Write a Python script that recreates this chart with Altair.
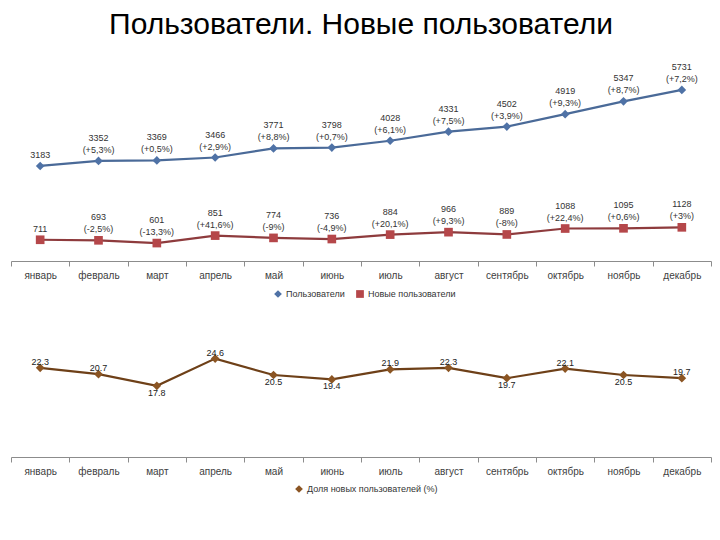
import altair as alt
import pandas as pd

months = ["январь", "февраль", "март", "апрель", "май", "июнь",
          "июль", "август", "сентябрь", "октябрь", "ноябрь", "декабрь"]
users = [3183, 3352, 3369, 3466, 3771, 3798, 4028, 4331, 4502, 4919, 5347, 5731]
users_change = ["", "(+5,3%)", "(+0,5%)", "(+2,9%)", "(+8,8%)", "(+0,7%)",
                "(+6,1%)", "(+7,5%)", "(+3,9%)", "(+9,3%)", "(+8,7%)", "(+7,2%)"]
new_users = [711, 693, 601, 851, 774, 736, 884, 966, 889, 1088, 1095, 1128]
new_change = ["", "(-2,5%)", "(-13,3%)", "(+41,6%)", "(-9%)", "(-4,9%)",
              "(+20,1%)", "(+9,3%)", "(-8%)", "(+22,4%)", "(+0,6%)", "(+3%)"]
share = [22.3, 20.7, 17.8, 24.6, 20.5, 19.4, 21.9, 22.3, 19.7, 22.1, 20.5, 19.7]
share_label_below = [False, False, True, False, True, True,
                     False, False, True, False, True, False]

S_USERS = "Пользователи"
S_NEW = "Новые пользователи"
S_SHARE = "Доля новых пользователей (%)"

rows = []
for m, v, c in zip(months, users, users_change):
    rows.append({"month": m, "series": S_USERS, "value": v, "num": str(v),
                 "chg": c, "has_chg": bool(c)})
for m, v, c in zip(months, new_users, new_change):
    rows.append({"month": m, "series": S_NEW, "value": v, "num": str(v),
                 "chg": c, "has_chg": bool(c)})
top_df = pd.DataFrame(rows)

bot_df = pd.DataFrame({"month": months, "series": S_SHARE, "value": share,
                       "label": [f"{v:.1f}" for v in share],
                       "below": share_label_below})

FONT = "Liberation Sans"
W = 700

x_enc = alt.X("month:N", sort=months,
              scale=alt.Scale(type="band", paddingInner=0, paddingOuter=0),
              axis=alt.Axis(title=None, labelAngle=0, tickBand="extent",
                            domainColor="#8c8c8c", tickColor="#8c8c8c",
                            tickSize=5, labelFontSize=10, labelColor="#404040",
                            labelFont=FONT, labelPadding=4, grid=False))

top_legend = alt.Legend(title=None, orient="none", direction="horizontal",
                        legendX=262, legendY=237, labelFontSize=9,
                        labelFont=FONT, labelColor="#333333",
                        symbolSize=60, columnPadding=10, labelOffset=3)
top_color = alt.Color("series:N",
                      scale=alt.Scale(domain=[S_USERS, S_NEW], range=["#4f72a6", "#b5474a"]),
                      legend=top_legend)
top_shape = alt.Shape("series:N",
                      scale=alt.Scale(domain=[S_USERS, S_NEW], range=["diamond", "square"]),
                      legend=top_legend)
y_top = alt.Y("value:Q", scale=alt.Scale(domain=[0, 7000]), axis=None)

top_base = alt.Chart(top_df).encode(x=x_enc, y=y_top)
top_line = top_base.mark_line(strokeWidth=2.2).encode(
    stroke=alt.Stroke("series:N",
                      scale=alt.Scale(domain=[S_USERS, S_NEW], range=["#4a6a98", "#8e3b3d"]),
                      legend=None),
    detail="series:N")
top_pts = top_base.mark_point(filled=True, size=75, opacity=1).encode(
    color=top_color, shape=top_shape)
txt_style = dict(baseline="bottom", fontSize=9, font=FONT, color="#333333")
top_chg = top_base.transform_filter("datum.has_chg").mark_text(dy=-6, **txt_style).encode(
    text="chg:N")
top_num2 = top_base.transform_filter("datum.has_chg").mark_text(dy=-18, **txt_style).encode(
    text="num:N")
top_num1 = top_base.transform_filter("!datum.has_chg").mark_text(dy=-6, **txt_style).encode(
    text="num:N")
top_chart = alt.layer(top_line, top_pts, top_chg, top_num2, top_num1).properties(
    width=W, height=209)

y_bot = alt.Y("value:Q", scale=alt.Scale(domain=[0, 30]), axis=None)
bot_base = alt.Chart(bot_df).encode(x=x_enc, y=y_bot)
bot_line = bot_base.mark_line(strokeWidth=2.2, color="#6e4018")
bot_pts = bot_base.mark_point(filled=True, size=75, shape="diamond", opacity=1).encode(
    color=alt.Color("series:N", scale=alt.Scale(domain=[S_SHARE], range=["#8b5523"]),
                    legend=alt.Legend(title=None, orient="none", legendX=283, legendY=147,
                                      labelFontSize=9, labelFont=FONT, labelColor="#333333",
                                      symbolType="diamond", symbolSize=60, labelOffset=3)))
bot_txt_up = bot_base.transform_filter("!datum.below").mark_text(
    baseline="middle", dy=-6, fontSize=9, font=FONT, color="#222222").encode(text="label:N")
bot_txt_dn = bot_base.transform_filter("datum.below").mark_text(
    baseline="middle", dy=7, fontSize=9, font=FONT, color="#222222").encode(text="label:N")
bot_chart = alt.layer(bot_line, bot_pts, bot_txt_up, bot_txt_dn).properties(width=W, height=120)

chart = alt.vconcat(top_chart, bot_chart, spacing=38).resolve_scale(
    color="independent", shape="independent", x="independent", y="independent"
).properties(
    title=alt.TitleParams("Пользователи. Новые пользователи", fontSize=30, font=FONT,
                          fontWeight="normal", color="#000000", anchor="middle", offset=12),
    padding={"left": 2, "top": 2, "right": 0, "bottom": 0},
).configure_view(stroke=None)

chart.save("out.html", embed_options={"renderer": "svg", "actions": False})
